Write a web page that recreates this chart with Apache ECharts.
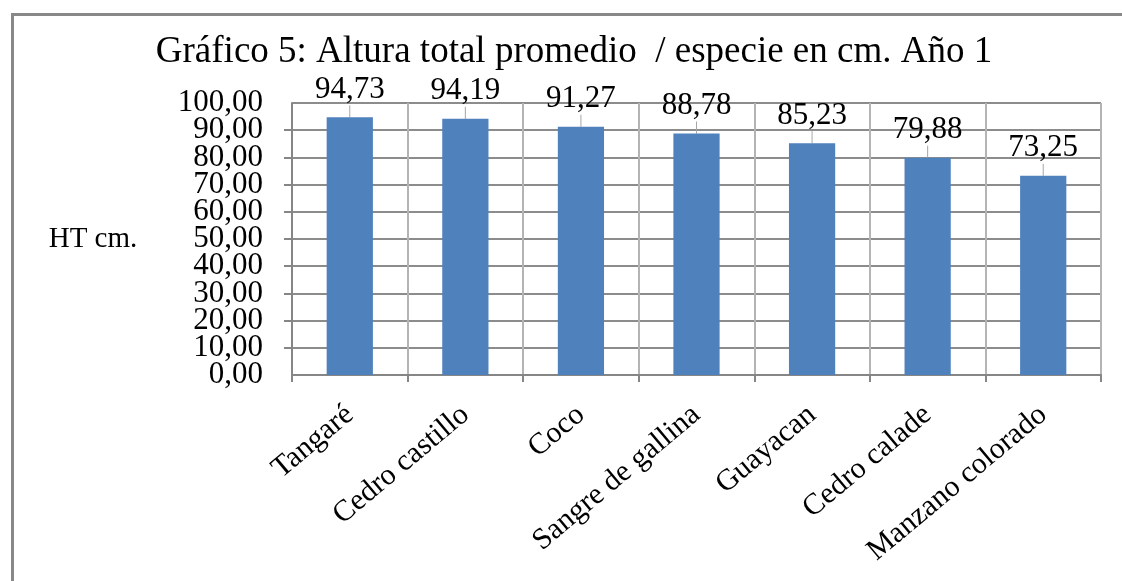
<!DOCTYPE html>
<html>
<head>
<meta charset="utf-8">
<script src="https://cdn.jsdelivr.net/npm/echarts@6/dist/echarts.min.js"></script>
<style>
html,body{margin:0;padding:0;background:#fff;}
#chart{width:1122px;height:581px;}
</style>
</head>
<body>
<div id="chart"></div>
<script>
const titleText = 'Gráfico 5: Altura total promedio  / especie en cm. Año 1';
const yAxisName = 'HT cm.';
const categories = ['Tangaré', 'Cedro castillo', 'Coco', 'Sangre de gallina', 'Guayacan', 'Cedro calade', 'Manzano colorado'];
const heights = [94.73, 94.19, 91.27, 88.78, 85.23, 79.88, 73.25];
const yTicks = { min: 0, max: 100, interval: 10 };

const fmt = v => Number(v).toFixed(2).replace('.', ',');
const serif = '"Liberation Serif", "Times New Roman", serif';
const isEnd = v => v === yTicks.min || v === yTicks.max;

const labelBase = {
  margin: 29,
  hideOverlap: false,
  fontFamily: serif,
  fontSize: 31,
  color: '#000'
};

const chart = echarts.init(document.getElementById('chart'));
chart.setOption({
  backgroundColor: '#ffffff',
  animation: false,
  title: {
    text: titleText,
    left: 569,
    textAlign: 'center',
    top: 29,
    textStyle: { fontFamily: serif, fontSize: 37, fontWeight: 'normal', color: '#000' }
  },
  graphic: [{
    type: 'rect',
    left: 10, top: 12,
    shape: { width: 1200, height: 700 },
    style: { fill: 'none', stroke: '#888888', lineWidth: 3 },
    silent: true
  }],
  grid: { left: 292, right: 21, top: 103, bottom: 206, containLabel: false },
  xAxis: {
    type: 'category',
    data: categories,
    axisLine: { lineStyle: { color: '#868686', width: 2 } },
    axisTick: { show: true, length: 7, lineStyle: { color: '#868686', width: 2 } },
    splitLine: { show: true, lineStyle: { color: '#b4b4b4', width: 2 } },
    axisLabel: {
      rotate: 40,
      margin: 36,
      interval: 0,
      fontFamily: serif,
      fontSize: 30,
      color: '#000'
    }
  },
  yAxis: [{
    type: 'value',
    position: 'left',
    min: yTicks.min, max: yTicks.max, interval: yTicks.interval,
    name: yAxisName,
    nameLocation: 'middle',
    nameRotate: 0,
    nameGap: 199,
    nameTextStyle: { fontFamily: serif, fontSize: 29, color: '#000', align: 'center', verticalAlign: 'middle' },
    axisLine: { show: true, lineStyle: { color: '#868686', width: 2 } },
    axisTick: { show: true, length: 8, lineStyle: { color: '#868686', width: 2 } },
    splitLine: { show: true, lineStyle: { color: '#8c8c8c', width: 2 } },
    axisLabel: Object.assign({}, labelBase, {
      showMinLabel: false,
      showMaxLabel: false,
      formatter: v => fmt(v)
    })
  }, {
    type: 'value',
    position: 'left',
    offset: 0,
    min: yTicks.min, max: yTicks.max, interval: yTicks.interval,
    axisLine: { show: false },
    axisTick: { show: false },
    splitLine: { show: false },
    axisLabel: Object.assign({}, labelBase, {
      showMinLabel: true,
      showMaxLabel: true,
      formatter: v => isEnd(v) ? fmt(v) : ''
    })
  }],
  series: [{
    type: 'bar',
    yAxisIndex: 0,
    data: heights,
    barWidth: '40%',
    itemStyle: { color: '#4F81BD' },
    label: {
      show: true,
      position: 'top',
      distance: 0,
      fontFamily: serif,
      fontSize: 31,
      color: '#000',
      formatter: p => fmt(p.value)
    },
    labelLayout: { dy: -12 },
    labelLine: { show: true, lineStyle: { color: '#a6a6a6', width: 1 } }
  }]
});
</script>
</body>
</html>
